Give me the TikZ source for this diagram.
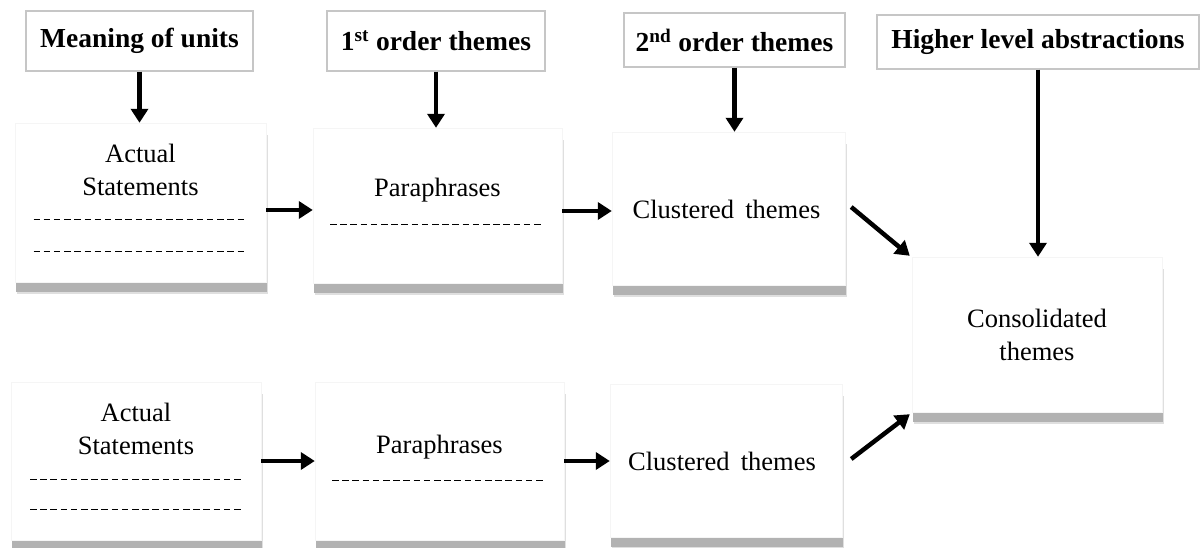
\documentclass[tikz,border=0pt]{standalone}
\usepackage{fontspec}
\setmainfont{Liberation Serif}
\usetikzlibrary{arrows.meta,shadows,calc}
\begin{document}
\begin{tikzpicture}[x=1pt,y=-1pt,
  hdr/.style={draw=gray!45, line width=1.2pt, fill=white, inner sep=0pt, font=\fontsize{27.5}{32}\selectfont\bfseries},
  card/.style={draw=gray!8, fill=white, inner sep=0pt,
    general shadow={fill=gray!25, shadow yshift=-12pt, shadow xshift=2pt},
    general shadow={fill=gray!60, shadow yshift=-10pt, shadow xshift=0.5pt}},
  txt/.style={font=\fontsize{26.5}{33}\selectfont, align=center, inner sep=0pt},
  dl/.style={dash pattern=on 6.5pt off 3.7pt, line width=1pt},
  arr/.style={line width=4.5pt, -{Triangle[width=17pt,length=14pt]}}]
\useasboundingbox (0,0) rectangle (1203,548);
% header boxes
\node[hdr, minimum width=227pt, minimum height=60pt] (mu) at (139.5,41) {Meaning of units};
\node[hdr, minimum width=218pt, minimum height=60pt] (o1) at (436,41) {1\textsuperscript{st} order themes};
\node[hdr, minimum width=221pt, minimum height=54pt] (o2) at (734.5,40) {2\textsuperscript{nd} order themes};
\node[hdr, minimum width=322pt, minimum height=54pt] (hl) at (1038,42) {Higher level abstractions};
% cards
\node[card, minimum width=251pt, minimum height=159pt] (as1) at (140.5,202.5) {};
\node[card, minimum width=249pt, minimum height=155pt] (p1) at (437.5,205.5) {};
\node[card, minimum width=233pt, minimum height=153pt] (c1) at (728.5,208.5) {};
\node[card, minimum width=250pt, minimum height=155pt] (cons) at (1037,334.5) {};
\node[card, minimum width=250pt, minimum height=158pt] (as2) at (136,461) {};
\node[card, minimum width=249pt, minimum height=158pt] (p2) at (439.5,461) {};
\node[card, minimum width=232pt, minimum height=153pt] (c2) at (726,460.5) {};
% texts
\node[txt] (as1t) at ($(as1.center)+(0,-32.5)$) {Actual\\Statements};
\node[txt] (p1t) at ($(p1.center)+(0,-15.5)$) {Paraphrases};
\node[txt] (c1t) at ($(c1.center)+(-2,0.5)$) {Clustered\, themes};
\node[txt] (const) at (cons.center) {Consolidated\\themes};
\node[txt] (as2t) at ($(as2.center)+(0,-32)$) {Actual\\Statements};
\node[txt] (p2t) at ($(p2.center)+(0,-14)$) {Paraphrases};
\node[txt] (c2t) at ($(c2.center)+(-4,0.5)$) {Clustered\, themes};
% dashed lines
\draw[dl] ($(as1.center)+(-107,17.5)$) -- ++(214,0);
\draw[dl] ($(as1.center)+(-107,49.5)$) -- ++(214,0);
\draw[dl] ($(p1.center)+(-107.5,19.5)$) -- ++(214,0);
\draw[dl] ($(as2.center)+(-106,18)$) -- ++(213,0);
\draw[dl] ($(as2.center)+(-106,48)$) -- ++(213,0);
\draw[dl] ($(p2.center)+(-107.5,19)$) -- ++(213,0);
% arrows
\draw[arr] (mu.south) -- (mu.south |- as1.north);
\draw[arr] (o1.south) -- (o1.south |- p1.north);
\draw[arr] (o2.south) -- (o2.south |- c1.north);
\draw[arr] (hl.south) -- (hl.south |- cons.north);
\coordinate (h1) at ([yshift=-7.5pt]as1.east);
\draw[arr] (h1) -- (h1 -| p1.west);
\coordinate (h2) at ([yshift=-5.5pt]p1.east);
\draw[arr] (h2) -- (h2 -| c1.west);
\draw[arr] (as2.east) -- (as2.east -| p2.west);
\draw[arr] (p2.east) -- (p2.east -| c2.west);
\draw[arr] ([xshift=6pt,yshift=1.5pt]c1.east) -- ([xshift=-2pt,yshift=1pt]cons.north west);
\draw[arr] ([xshift=9pt,yshift=1.5pt]c2.east) -- ([xshift=-2pt,yshift=-2pt]cons.south west);
\end{tikzpicture}
\end{document}
